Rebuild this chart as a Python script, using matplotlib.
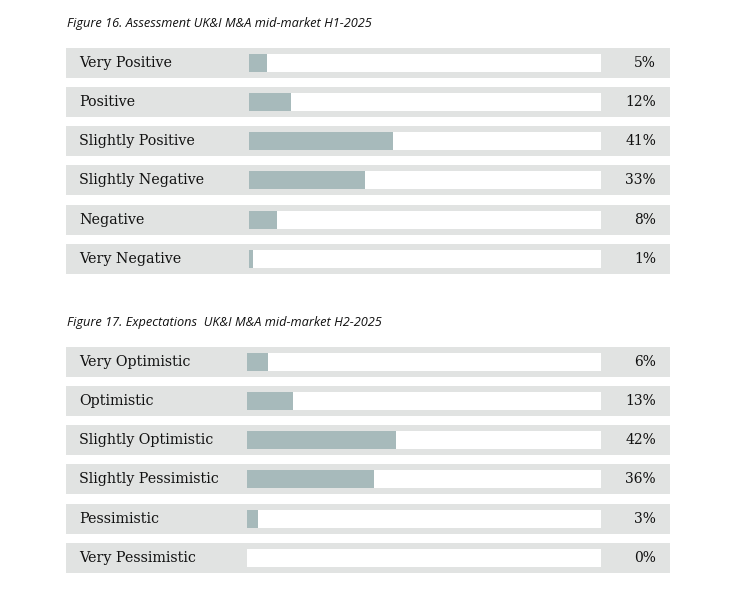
import numpy as np
import matplotlib.pyplot as plt

# Figure 16 data
h1_labels = ["Very Positive", "Positive", "Slightly Positive",
             "Slightly Negative", "Negative", "Very Negative"]
h1_values = [5, 12, 41, 33, 8, 1]

# Figure 17 data
h2_labels = ["Very Optimistic", "Optimistic", "Slightly Optimistic",
             "Slightly Pessimistic", "Pessimistic", "Very Pessimistic"]
h2_values = [6, 13, 42, 36, 3, 0]

bg_col = '#e1e3e2'
bar_col = '#a7babb'
W, H = 750, 595

fig = plt.figure(figsize=(7.5, 5.95), dpi=100)


def panel(top_px, track_left_px, labels, values, title):
    # axes spans the grey rows, x in percent (track = 0..100)
    left_px, right_px, track_right_px = 66, 670, 601
    pitch = 39.25
    bottom_px = top_px + pitch * len(labels)
    ax = fig.add_axes([left_px / W, 1 - bottom_px / H,
                       (right_px - left_px) / W, pitch * len(labels) / H])
    scale = (track_right_px - track_left_px) / 100
    x0 = (left_px - track_left_px) / scale
    x1 = (right_px - track_left_px) / scale
    y = np.arange(len(labels))

    ax.barh(y, x1 - x0, left=x0, height=30 / pitch, color=bg_col)
    ax.barh(y, 100, left=0, height=18 / pitch, color='white')
    ax.barh(y, values, left=0, height=18 / pitch, color=bar_col)

    lab_x = (79 - track_left_px) / scale
    pct_x = (656 - track_left_px) / scale
    for yi, lab, v in zip(y, labels, values):
        ax.text(lab_x, yi, lab, va='center', ha='left', fontsize=10.3,
                family='DejaVu Serif', color='#111111')
        ax.text(pct_x, yi, f"{v}%", va='center', ha='right', fontsize=10,
                family='DejaVu Serif', color='#111111')

    ax.set_xlim(x0, x1)
    ax.set_ylim(len(labels) - 0.5, -0.5)
    ax.axis('off')

    fig.text(67 / W, 1 - (top_px - 19.5) / H, title, ha='left', va='center',
             fontsize=9.2, style='italic', family='Open Sans', color='#111111')


panel(43, 249, h1_labels, h1_values,
      "Figure 16. Assessment UK&I M&A mid-market H1-2025")
panel(342, 247, h2_labels, h2_values,
      "Figure 17. Expectations  UK&I M&A mid-market H2-2025")

fig.savefig("out.png", dpi=100)
